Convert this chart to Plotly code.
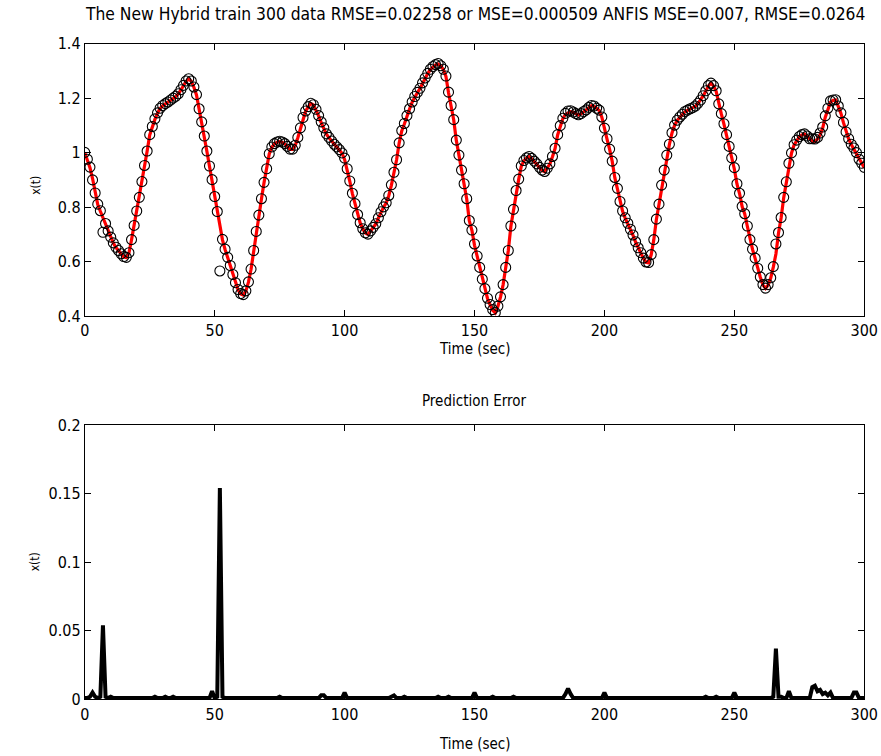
import plotly.graph_objects as go

# ---- data ----
time_sec = list(range(0, 301))

x_actual = [
    1.000, 0.975, 0.945, 0.905, 0.850, 0.810, 0.785, 0.762, 0.738, 0.712,
    0.688, 0.668, 0.652, 0.640, 0.628, 0.618, 0.615, 0.632, 0.680, 0.732,
    0.785, 0.835, 0.893, 0.952, 1.005, 1.065, 1.095, 1.122, 1.145, 1.162,
    1.172, 1.178, 1.185, 1.192, 1.198, 1.206, 1.215, 1.230, 1.246, 1.262,
    1.270, 1.262, 1.240, 1.212, 1.160, 1.112, 1.060, 1.005, 0.950, 0.895,
    0.838, 0.782, 0.720, 0.680, 0.645, 0.615, 0.585, 0.552, 0.522, 0.497,
    0.482, 0.478, 0.492, 0.525, 0.572, 0.640, 0.710, 0.770, 0.830, 0.890,
    0.940, 0.995, 1.020, 1.032, 1.038, 1.040, 1.038, 1.032, 1.022, 1.012,
    1.012, 1.026, 1.055, 1.090, 1.128, 1.152, 1.168, 1.180, 1.175, 1.158,
    1.135, 1.110, 1.088, 1.068, 1.055, 1.042, 1.030, 1.020, 1.010, 0.998,
    0.975, 0.940, 0.895, 0.850, 0.812, 0.772, 0.742, 0.720, 0.705, 0.700,
    0.712, 0.725, 0.738, 0.760, 0.782, 0.800, 0.815, 0.842, 0.880, 0.925,
    0.973, 1.035, 1.080, 1.105, 1.135, 1.160, 1.185, 1.205, 1.220, 1.235,
    1.255, 1.273, 1.290, 1.305, 1.315, 1.322, 1.325, 1.318, 1.305, 1.280,
    1.220, 1.172, 1.120, 1.045, 0.990, 0.935, 0.885, 0.830, 0.750, 0.715,
    0.660, 0.620, 0.578, 0.535, 0.500, 0.465, 0.442, 0.422, 0.412, 0.436,
    0.470, 0.515, 0.578, 0.640, 0.730, 0.790, 0.860, 0.902, 0.950, 0.970,
    0.980, 0.985, 0.978, 0.968, 0.958, 0.945, 0.935, 0.930, 0.942, 0.958,
    0.985, 1.015, 1.065, 1.098, 1.125, 1.140, 1.145, 1.150, 1.148, 1.142,
    1.138, 1.142, 1.150, 1.156, 1.165, 1.172, 1.170, 1.162, 1.155, 1.130,
    1.085, 1.050, 1.012, 0.968, 0.908, 0.868, 0.820, 0.785, 0.760, 0.740,
    0.718, 0.697, 0.672, 0.650, 0.632, 0.612, 0.598, 0.596, 0.625, 0.680,
    0.755, 0.810, 0.880, 0.935, 0.990, 1.030, 1.072, 1.100, 1.118, 1.130,
    1.140, 1.150, 1.155, 1.160, 1.164, 1.170, 1.180, 1.192, 1.208, 1.225,
    1.245, 1.254, 1.245, 1.225, 1.178, 1.142, 1.105, 1.065, 1.022, 0.980,
    0.940, 0.885, 0.850, 0.802, 0.775, 0.730, 0.680, 0.645, 0.612, 0.575,
    0.543, 0.515, 0.502, 0.515, 0.540, 0.580, 0.628, 0.705, 0.760, 0.835,
    0.892, 0.955, 0.998, 1.028, 1.045, 1.058, 1.065, 1.068, 1.060, 1.050,
    1.042, 1.040, 1.050, 1.065, 1.090, 1.130, 1.160, 1.185, 1.192, 1.193,
    1.170, 1.145, 1.110, 1.075, 1.050, 1.030, 1.012, 0.995, 0.975, 0.960,
    0.945,
]

# signed prediction error (ANFIS output minus actual); the lower panel shows its magnitude
signed_error = [
    0.001, 0.001, 0.002, -0.005, 0.002, 0.001, 0.002, -0.054, 0.002, 0.001,
    0.002, 0.001, 0.001, 0.001, 0.001, 0.001, 0.001, 0.001, 0.001, 0.001,
    0.001, 0.001, 0.001, 0.001, 0.001, 0.001, 0.001, 0.002, 0.001, 0.001,
    0.001, 0.002, 0.001, 0.001, 0.002, 0.001, 0.001, 0.001, 0.001, 0.001,
    0.001, 0.001, 0.001, 0.001, 0.001, 0.001, 0.001, 0.001, 0.001, 0.006,
    0.001, 0.002, -0.154, 0.002, 0.001, 0.001, 0.001, 0.001, 0.001, 0.001,
    0.001, 0.001, 0.001, 0.001, 0.001, 0.001, 0.001, 0.001, 0.001, 0.001,
    0.001, 0.001, 0.001, 0.001, 0.001, 0.002, 0.001, 0.001, 0.001, 0.001,
    0.001, 0.001, 0.001, 0.001, 0.001, 0.001, 0.001, 0.001, 0.001, 0.001,
    0.001, 0.003, 0.003, 0.001, 0.001, 0.001, 0.001, 0.001, 0.001, 0.001,
    0.005, 0.001, 0.001, 0.001, 0.001, 0.001, 0.001, 0.001, 0.001, 0.001,
    0.001, 0.001, 0.001, 0.001, 0.001, 0.001, 0.001, 0.001, 0.002, 0.003,
    0.001, 0.001, 0.001, 0.002, 0.001, 0.001, 0.001, 0.001, 0.001, 0.001,
    0.001, 0.001, 0.001, 0.001, 0.001, 0.001, 0.002, 0.001, 0.001, 0.001,
    0.002, 0.001, 0.001, 0.001, 0.001, 0.001, 0.001, 0.001, 0.001, 0.001,
    0.005, 0.001, 0.001, 0.001, 0.001, 0.001, 0.001, 0.002, 0.001, 0.001,
    0.001, 0.001, 0.001, 0.001, 0.001, 0.002, 0.001, 0.001, 0.001, 0.001,
    0.001, 0.001, 0.001, 0.001, 0.001, 0.001, 0.001, 0.001, 0.001, 0.001,
    0.001, 0.001, 0.001, 0.001, 0.001, 0.004, 0.008, 0.004, 0.001, 0.001,
    0.001, 0.001, 0.001, 0.001, 0.001, 0.001, 0.001, 0.001, 0.001, 0.001,
    0.005, 0.001, 0.001, 0.001, 0.001, 0.001, 0.001, 0.001, 0.001, 0.001,
    0.001, 0.001, 0.001, 0.001, 0.001, 0.001, 0.001, 0.001, 0.001, 0.001,
    0.001, 0.001, 0.001, 0.001, 0.001, 0.001, 0.001, 0.001, 0.001, 0.001,
    0.001, 0.001, 0.001, 0.001, 0.001, 0.001, 0.001, 0.001, 0.001, 0.002,
    0.001, 0.001, 0.001, 0.002, 0.001, 0.001, 0.001, 0.001, 0.001, 0.001,
    0.005, 0.001, 0.001, 0.001, 0.001, 0.001, 0.001, 0.001, 0.001, 0.001,
    0.001, 0.001, 0.001, 0.001, 0.001, 0.002, 0.037, 0.002, 0.002, 0.001,
    0.001, 0.006, 0.001, 0.001, 0.001, 0.001, 0.001, 0.001, 0.001, 0.001,
    0.009, 0.010, 0.006, 0.007, 0.004, 0.005, 0.003, 0.005, 0.001, 0.001,
    0.001, 0.001, 0.001, 0.001, 0.001, 0.001, 0.005, 0.005, 0.001, 0.001,
    0.001,
]

anfis_output = [a + e for a, e in zip(x_actual, signed_error)]
abs_error = [abs(e) for e in signed_error]

top_yticks = [0.4, 0.6, 0.8, 1.0, 1.2, 1.4]
top_ytext = ["0.4", "0.6", "0.8", "1", "1.2", "1.4"]
bot_yticks = [0, 0.05, 0.1, 0.15, 0.2]
bot_ytext = ["0", "0.05", "0.1", "0.15", "0.2"]
xticks = [0, 50, 100, 150, 200, 250, 300]

title_top = ("The New Hybrid train 300 data RMSE=0.02258 or MSE=0.000509 "
             "ANFIS MSE=0.007, RMSE=0.0264")
title_bot = "Prediction Error"
xlabel = "Time (sec)"
ylabel = "x(t)"

# ---- figure ----
W, H = 890, 768
FONT = "Liberation Sans Narrow, DejaVu Sans Condensed, Arial Narrow, sans-serif"


def px(pix):
    return pix / W


def py(pix):
    return 1 - pix / H


fig = go.Figure()
fig.add_trace(go.Scatter(
    x=time_sec, y=x_actual, mode="lines",
    line=dict(color="#ff0000", width=3.2), xaxis="x", yaxis="y",
    showlegend=False))
fig.add_trace(go.Scatter(
    x=time_sec, y=anfis_output, mode="markers",
    marker=dict(symbol="circle-open", size=10, color="black",
                line=dict(width=1.1, color="black")),
    xaxis="x", yaxis="y", showlegend=False))
fig.add_trace(go.Scatter(
    x=time_sec, y=abs_error, mode="lines",
    line=dict(color="black", width=4), xaxis="x2", yaxis="y2",
    showlegend=False))

x0, x1 = px(81.5), px(878)
axis_common = dict(
    showgrid=False, zeroline=False, showline=True, linecolor="black",
    linewidth=1, mirror="ticks", ticks="inside", ticklen=6,
    tickcolor="black", tickwidth=1, ticklabeloverflow="allow",
    tickfont=dict(family=FONT, size=16, color="black"),
)

fig.update_layout(
    width=W, height=H, paper_bgcolor="white", plot_bgcolor="white",
    margin=dict(l=0, r=0, t=0, b=0),
    font=dict(family=FONT, color="black"),
    xaxis=dict(domain=[x0, x1], anchor="y", range=[0, 300],
               tickvals=xticks, ticktext=[str(v) for v in xticks], **axis_common),
    yaxis=dict(domain=[py(315), py(35.5)], anchor="x", range=[0.4, 1.4],
               tickvals=top_yticks, ticktext=top_ytext, **axis_common),
    xaxis2=dict(domain=[x0, x1], anchor="y2", range=[0, 300],
                tickvals=xticks, ticktext=[str(v) for v in xticks], **axis_common),
    yaxis2=dict(domain=[py(708), py(426.5)], anchor="x2", range=[0, 0.2],
                tickvals=bot_yticks, ticktext=bot_ytext, **axis_common),
    annotations=[
        dict(text=title_top, xref="paper", yref="paper", x=(x0 + x1) / 2,
             y=py(5.5), xanchor="center", yanchor="middle", showarrow=False,
             font=dict(family=FONT, size=17.3, color="black")),
        dict(text=title_bot, xref="paper", yref="paper", x=(x0 + x1) / 2,
             y=py(402), xanchor="center", yanchor="middle", showarrow=False,
             font=dict(family=FONT, size=15, color="black")),
        dict(text=xlabel, xref="paper", yref="paper", x=(x0 + x1) / 2,
             y=py(349), xanchor="center", yanchor="middle", showarrow=False,
             font=dict(family=FONT, size=15, color="black")),
        dict(text=xlabel, xref="paper", yref="paper", x=(x0 + x1) / 2,
             y=py(754), xanchor="center", yanchor="middle", showarrow=False,
             font=dict(family=FONT, size=15, color="black")),
        dict(text=ylabel, xref="paper", yref="paper", x=px(31),
             y=py(181), xanchor="center", yanchor="middle", showarrow=False,
             textangle=-90, font=dict(family=FONT, size=12, color="black")),
        dict(text=ylabel, xref="paper", yref="paper", x=px(31),
             y=py(567), xanchor="center", yanchor="middle", showarrow=False,
             textangle=-90, font=dict(family=FONT, size=12, color="black")),
    ],
)

fig.write_html(
    "out.html",
    config={"displayModeBar": False},
    post_script="document.body.style.margin='0';document.body.style.overflow='hidden';",
)
